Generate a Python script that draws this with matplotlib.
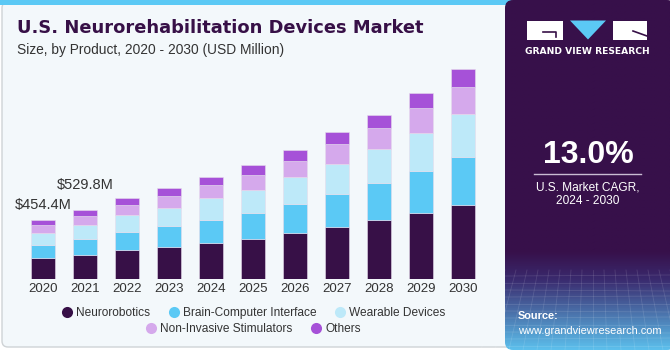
import matplotlib
matplotlib.use("Agg")
import matplotlib.pyplot as plt
import numpy as np
from matplotlib.patches import Rectangle, Polygon, FancyBboxPatch
from matplotlib.lines import Line2D

years = ["2020", "2021", "2022", "2023", "2024", "2025", "2026", "2027", "2028", "2029", "2030"]
neurorobotics = [160.1, 185.9, 219.5, 247.9, 278.9, 309.8, 351.2, 400.2, 451.9, 508.7, 570.6]
brain_computer = [100.7, 121.4, 142.0, 160.1, 178.2, 198.8, 227.2, 255.6, 291.8, 327.9, 371.8]
wearable = [95.5, 111.0, 129.1, 142.0, 165.2, 180.7, 206.5, 235.0, 258.2, 294.4, 335.7]
non_invasive = [62.0, 69.7, 80.0, 90.4, 103.3, 116.2, 129.1, 149.8, 162.7, 188.5, 209.1]
others = [36.1, 41.8, 54.2, 62.0, 64.6, 72.3, 82.6, 95.5, 103.3, 116.2, 134.3]
series_names = ["Neurorobotics", "Brain-Computer Interface", "Wearable Devices",
                "Non-Invasive Stimulators", "Others"]
colors = ["#371047", "#5bc9f5", "#bde9f9", "#d5a9ec", "#a651d8"]
annot_labels = ["$454.4M", "$529.8M"]

W, H = 670, 350
fig = plt.figure(figsize=(W / 100, H / 100), dpi=100)
fig.patch.set_facecolor("white")

# background axes in pixel coordinates
bg = fig.add_axes([0, 0, 1, 1])
bg.set_xlim(0, W)
bg.set_ylim(H, 0)
bg.axis("off")
bg.add_patch(FancyBboxPatch((2, 2), 515, 345, boxstyle="round,pad=0,rounding_size=6",
                            fc="#f3f8fb", ec="#cfd3d6", lw=1.0))
bg.add_patch(Rectangle((0, 0), 512, 4.5, fc="#5bc9f5", ec="none"))

# right panel with gradient
grad = np.linspace(0, 1, 200)
c_top = np.array([0x37, 0x10, 0x4a]) / 255
c_mid = np.array([0x3a, 0x2a, 0x6e]) / 255
c_bot = np.array([0x5c, 0xbf, 0xec]) / 255
img = np.zeros((200, 1, 3))
for i, g in enumerate(grad):
    if g < 0.72:
        img[i, 0] = c_top
    elif g < 0.8:
        t = (g - 0.72) / 0.08
        img[i, 0] = c_top * (1 - t) + c_mid * t
    else:
        t = (g - 0.8) / 0.2
        img[i, 0] = c_mid * (1 - t) + c_bot * t
panel = FancyBboxPatch((505, 0), 170, 350, boxstyle="round,pad=0,rounding_size=8",
                       fc="none", ec="none")
bg.add_patch(panel)
im = bg.imshow(img, extent=(505, 670, 350, 0), aspect="auto", zorder=1)
im.set_clip_path(panel)
for k in range(12):
    yy = 276 + k * 7
    bg.plot([505, 670], [yy, yy + (k % 3) - 1], color="white", alpha=0.12, lw=0.6, zorder=2)
for k in range(16):
    xx = 505 + k * 11
    bg.plot([xx, xx + (k - 8) * 3], [270, 350], color="white", alpha=0.12, lw=0.6, zorder=2)

# logo
bg.add_patch(Rectangle((527, 20.5), 36, 19, fc="white", ec="none", zorder=3))
bg.plot([543, 556, 556], [32, 32, 37], color="#371047", lw=1.2, zorder=4)
bg.add_patch(Polygon([[570, 20.5], [606, 20.5], [588, 39.5]], closed=True, fc="#5bc9f5", ec="none", zorder=3))
bg.add_patch(Rectangle((613, 20.5), 34, 19, fc="white", ec="none", zorder=3))
bg.plot([633, 647], [31, 36], color="#371047", lw=1.2, zorder=4)
bg.text(587, 51, "GRAND VIEW RESEARCH", color="white", fontsize=6.6, fontweight="bold",
        ha="center", va="center", family="DejaVu Sans", zorder=4)

bg.text(588, 155, "13.0%", color="white", fontsize=23, fontweight="bold",
        ha="center", va="center", family="Liberation Sans", zorder=4)
bg.plot([534, 641], [173.5, 173.5], color="#c9bcd3", lw=1.0, zorder=4)
bg.text(588, 187, "U.S. Market CAGR,", color="white", fontsize=8.6,
        ha="center", va="center", family="Liberation Sans", zorder=4)
bg.text(588, 201.5, "2024 - 2030", color="white", fontsize=8.6,
        ha="center", va="center", family="Liberation Sans", zorder=4)
bg.text(518, 316, "Source:", color="white", fontsize=7.9, fontweight="bold",
        ha="left", va="center", family="Liberation Sans", zorder=4)
bg.text(518, 330.5, "www.grandviewresearch.com", color="white", fontsize=7.9,
        ha="left", va="center", family="Liberation Sans", zorder=4)

# titles
bg.text(17, 28, "U.S. Neurorehabilitation Devices Market", color="#371047", fontsize=12.9,
        fontweight="bold", ha="left", va="center", family="DejaVu Sans")
bg.text(17, 50, "Size, by Product, 2020 - 2030 (USD Million)", color="#333333", fontsize=9.9,
        ha="left", va="center", family="Liberation Sans")

# chart axes
x0_px, x1_px = 21.8, 483.8
base_px, top_px = 278.7, 60.0
ymax = (base_px - top_px) * 7.746
ax = fig.add_axes([x0_px / W, (H - base_px) / H, (x1_px - x0_px) / W, (base_px - top_px) / H])
ax.set_facecolor("none")
x = np.arange(len(years))
bottom = np.zeros(len(years))
for vals, col in zip([neurorobotics, brain_computer, wearable, non_invasive, others], colors):
    ax.bar(x, vals, width=0.58, bottom=bottom, color=col, edgecolor="#e6dcec", linewidth=0.4)
    bottom += np.array(vals)
ax.set_xlim(-0.5, len(years) - 0.5)
ax.set_ylim(0, ymax)
for s in ax.spines.values():
    s.set_visible(False)
ax.set_yticks([])
ax.set_xticks(x)
ax.set_xticklabels(years, fontsize=9.5, color="#333333", family="Liberation Sans")
ax.tick_params(axis="x", length=0, pad=3)

totals = bottom
ax.annotate(annot_labels[0], (x[0], totals[0]), xytext=(0, 6), textcoords="offset points",
            ha="center", va="bottom", fontsize=10.5, color="#333333", family="Liberation Sans")
ax.annotate(annot_labels[1], (x[1], totals[1]), xytext=(0, 13), textcoords="offset points",
            ha="center", va="bottom", fontsize=10.5, color="#333333", family="Liberation Sans")

# legends
def handles(idx):
    return [Line2D([], [], marker="o", ls="none", markersize=8, markerfacecolor=colors[i],
                   markeredgecolor="none", label=series_names[i]) for i in idx]

for idx, ypx in (([0, 1, 2], 312.7), ([3, 4], 328.7)):
    lg = fig.legend(handles=handles(idx), loc="center", bbox_to_anchor=(253 / W, 1 - ypx / H),
                    ncol=len(idx), frameon=False, handletextpad=0.25, columnspacing=1.5,
                    handlelength=1.0, borderaxespad=0, borderpad=0,
                    prop={"family": "Liberation Sans", "size": 8.6})
    for t in lg.get_texts():
        t.set_color("#333333")

fig.savefig("out.png", dpi=100, facecolor=fig.get_facecolor())
